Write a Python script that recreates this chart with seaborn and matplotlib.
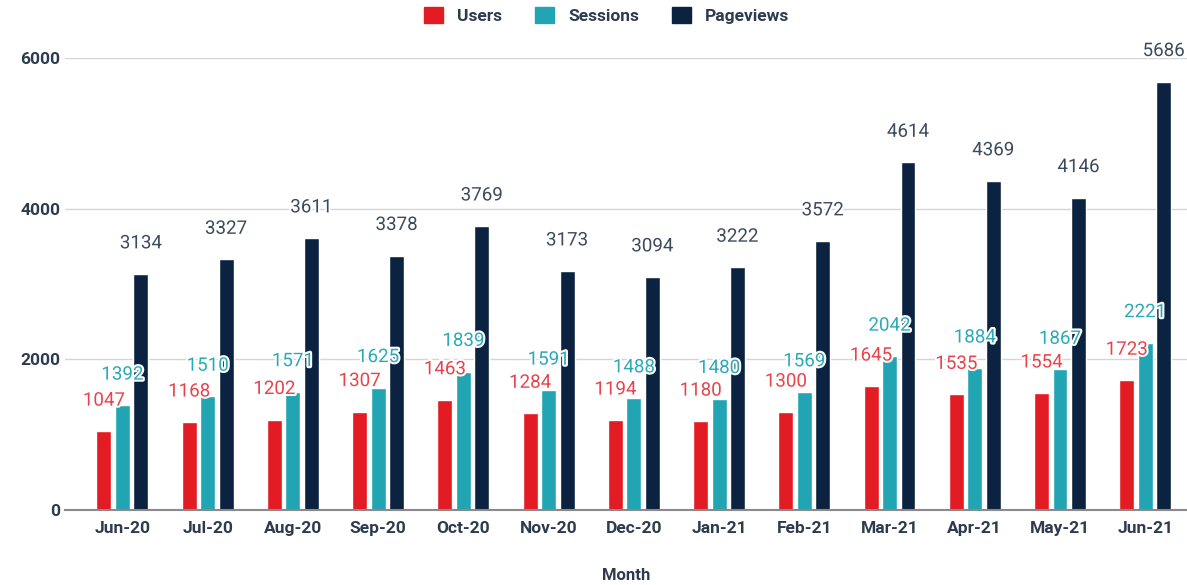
import matplotlib
matplotlib.use('Agg')
import matplotlib.pyplot as plt
import matplotlib.patheffects as pe
import pandas as pd
import seaborn as sns

months = ['Jun-20', 'Jul-20', 'Aug-20', 'Sep-20', 'Oct-20', 'Nov-20', 'Dec-20',
          'Jan-21', 'Feb-21', 'Mar-21', 'Apr-21', 'May-21', 'Jun-21']
users = [1047, 1168, 1202, 1307, 1463, 1284, 1194, 1180, 1300, 1645, 1535, 1554, 1723]
sessions = [1392, 1510, 1571, 1625, 1839, 1591, 1488, 1480, 1569, 2042, 1884, 1867, 2221]
pageviews = [3134, 3327, 3611, 3378, 3769, 3173, 3094, 3222, 3572, 4614, 4369, 4146, 5686]
series = ['Users', 'Sessions', 'Pageviews']

bar_colors = ['#E31B23', '#22A5B3', '#0B2341']
label_colors = ['#E8424B', '#2BAAB6', '#3C4A5C']
text_dark = '#2E3B4E'

df = pd.DataFrame({
    'Month': months * 3,
    'value': users + sessions + pageviews,
    'series': [s for s in series for _ in months],
})

sns.set_theme(style='white')
plt.rcParams['font.family'] = ['Roboto', 'DejaVu Sans']

fig = plt.figure(figsize=(11.87, 5.85), dpi=100)
ax = fig.add_axes([0.055, 0.128, 0.945, 0.773])

sns.barplot(data=df, x='Month', y='value', hue='series', palette=bar_colors,
            width=0.65, gap=0.19, saturation=1, ax=ax, legend=False)

ax.set_ylim(0, 6000)
ax.set_xlim(-0.67, 12.49)
ax.set_yticks([0, 2000, 4000, 6000])
ax.yaxis.grid(True, color='#D5D5D5', linewidth=1)
ax.set_axisbelow(True)
for side in ['top', 'right', 'left']:
    ax.spines[side].set_visible(False)
ax.spines['bottom'].set_color('#8A8A8A')
ax.spines['bottom'].set_linewidth(1.5)
ax.tick_params(axis='both', length=0, labelsize=12.5, colors=text_dark)
ax.tick_params(axis='x', pad=8)
for t in ax.get_xticklabels() + ax.get_yticklabels():
    t.set_fontweight('bold')
ax.set_ylabel('')
ax.set_xlabel('Month', fontsize=12, fontweight='bold', color=text_dark, labelpad=23)

# value labels above bars
for cont, col in zip(ax.containers, label_colors):
    for bar in cont:
        h = bar.get_height()
        ax.annotate(f'{int(h)}', (bar.get_x() + bar.get_width() / 2, h),
                    xytext=(0, 22), textcoords='offset points',
                    ha='center', va='center', fontsize=13.5, color=col,
                    clip_on=False,
                    path_effects=[pe.withStroke(linewidth=3, foreground='white')])

handles = [plt.Rectangle((0, 0), 1, 1, color=c) for c in bar_colors]
leg = fig.legend(handles, series, loc='center', bbox_to_anchor=(0.511, 0.974), ncol=3,
                 frameon=False, handlelength=1.1, handleheight=1.1, columnspacing=1.9,
                 handletextpad=0.8, prop={'weight': 'bold', 'size': 12.5})
for t in leg.get_texts():
    t.set_color(text_dark)

fig.savefig('out.png', dpi=100)
